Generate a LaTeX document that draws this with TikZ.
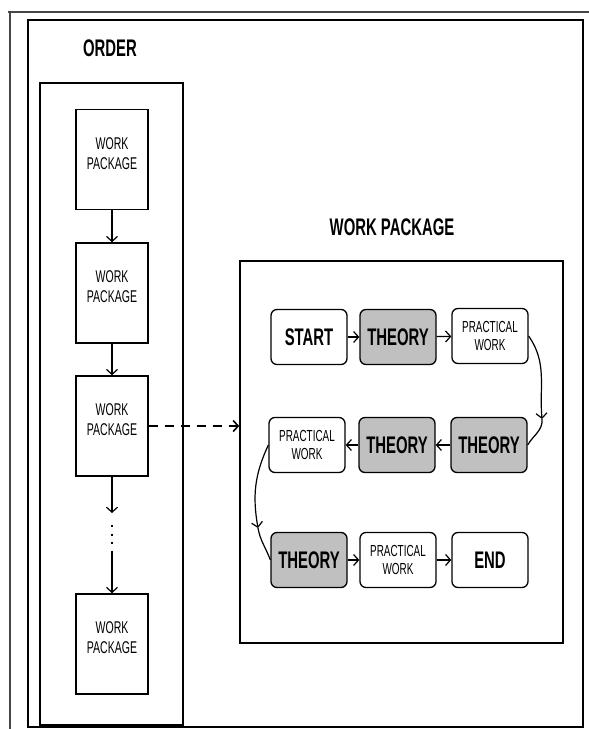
\documentclass[tikz,border=0pt]{standalone}
\usepackage{fontspec}
\setmainfont{Liberation Sans}
\newfontfamily\narrowfont[FakeStretch=0.62]{Liberation Sans}
\usepackage{tikz}
\usetikzlibrary{arrows.meta}
\definecolor{theorygray}{RGB}{192,192,192}
\definecolor{rulegray}{RGB}{70,70,70}
\tikzset{>={Straight Barb[length=5pt, width=11pt]}}

\begin{document}
\begin{tikzpicture}[x=1pt, y=-1pt]
                % pixel coordinates, y runs downwards
                \tikzstyle{every node}=[inner sep=0pt]
                \tikzstyle{heading}=[font={\narrowfont\bfseries\fontsize{24}{24}\selectfont}]
                \tikzstyle{wpbox}=[draw, line width=1.6pt, minimum width=72pt, minimum height=100pt, align=center, text depth=12pt, font={\narrowfont\fontsize{17}{20}\selectfont}]
                \tikzstyle{flowbox}=[draw, rounded corners=6pt, line width=1.3pt, minimum width=76pt, minimum height=55pt, align=center, font={\narrowfont\bfseries\fontsize{24}{24}\selectfont}]
                \tikzstyle{theory}=[flowbox, fill=theorygray]
                \tikzstyle{practical}=[flowbox, font={\narrowfont\fontsize{16}{18}\selectfont}]
                \tikzstyle{link}=[->, line width=1.2pt]
                \useasboundingbox (0,0) rectangle (589,729);
                \draw[rulegray, line width=1.5pt] (8,12) -- (589,12);
                \draw[rulegray, line width=2pt] (10,12) -- (10,729);
                \draw[line width=1.5pt] (28,20) rectangle (583,727);
                % order column
                \node[heading] (ordertitle) at (110,48) {ORDER};
                \node[draw, line width=1.5pt, minimum width=143pt, minimum height=642pt] (orderbox) at (111.5,404) {};
                \node[wpbox] (wp1) at (112,159.5) {WORK\\PACKAGE};
                \node[wpbox] (wp2) at (112,293) {WORK\\PACKAGE};
                \node[wpbox] (wp3) at (112,426) {WORK\\PACKAGE};
                \node[wpbox] (wp4) at (112,644) {WORK\\PACKAGE};
                \coordinate (gap) at (112,513);
                \coordinate (dotstart) at (112,525);
                \coordinate (dotend) at (112,553);
                \draw[link] (wp1) -- (wp2);
                \draw[link] (wp2) -- (wp3);
                \draw[link] (wp3) -- (gap);
                \draw[line width=2pt, dash pattern=on 2pt off 6.5pt] (dotstart) -- (dotend);
                \draw[link] (dotend) -- (wp4);
                % work package
                \node[heading] (wptitle) at (392,227) {WORK PACKAGE};
                \node[draw, line width=1.5pt, minimum width=323pt, minimum height=382pt] (wpframe) at (401.5,452) {};
                \draw[link, line width=1.6pt, dash pattern=on 9pt off 7pt] (wp3.east) -- (wp3.east -| wpframe.west);
                \node[flowbox] (start) at (309,337) {START};
                \node[theory] (theory1) at (398,337) {THEORY};
                \node[practical] (prac1) at (490,336) {PRACTICAL\\WORK};
                \node[theory] (theory2) at (489,445) {THEORY};
                \node[theory] (theory3) at (397,445) {THEORY};
                \node[practical] (prac2) at (307,445) {PRACTICAL\\WORK};
                \node[theory] (theory4) at (309,560) {THEORY};
                \node[practical] (prac3) at (398,560) {PRACTICAL\\WORK};
                \node[flowbox] (end) at (490,560) {END};
                \draw[link] (start) -- (theory1);
                \draw[link] (theory1) -- (prac1);
                \draw[link] (theory2) -- (theory3);
                \draw[link] (theory3) -- (prac2);
                \draw[link] (theory4) -- (prac3);
                \draw[link] (prac3) -- (end);
                \coordinate (bendright) at (542,419);
                \coordinate (bendleft) at (258,528);
                \draw[link] (prac1.east) to[out=-55, in=95] (bendright);
                \draw[line width=1.2pt] (bendright) to[out=-85, in=60] (theory2.east);
                \draw[link] (prac2.west) to[out=-115, in=100] (bendleft);
                \draw[line width=1.2pt] (bendleft) to[out=-80, in=110] (theory4.west);
        \end{tikzpicture}
\end{document}
